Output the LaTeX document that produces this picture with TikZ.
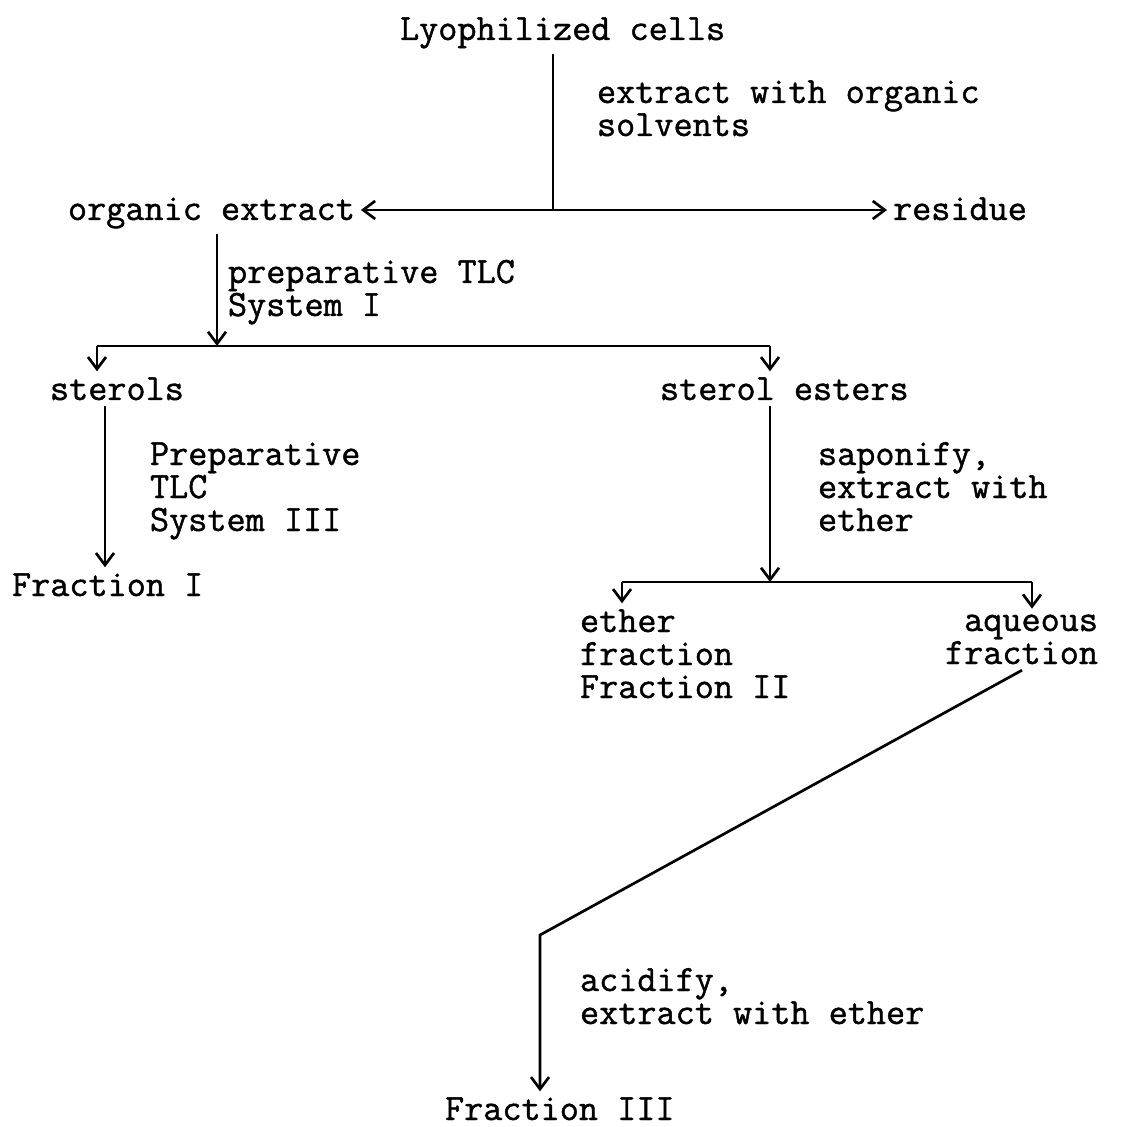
\documentclass[tikz,border=0pt]{standalone}
\usepackage{fontspec}
\setmainfont[FakeBold=1.2,AutoFakeBold=1.2]{Latin Modern Mono}
\usetikzlibrary{arrows.meta}
\tikzset{
    txt/.style = {inner sep=0pt, outer sep=3pt, anchor=base west, align=left, font=\fontsize{18.57}{16.5}\selectfont\bfseries},
    flow/.style = {line width=1.35pt},
    flowarrow/.style = {flow, -{Straight Barb[length=6pt, width=9pt, line width=1.35pt]}}
}
\begin{document}
\begin{tikzpicture}[x=0.5pt, y=-0.5pt]
    \useasboundingbox (0,0) rectangle (1120,1127);

    % texts (multi-line ones sit on their last line)
    \node[txt] (lyo) at (394,40) {Lyophilized cells};
    \node[txt] (step1) at (591,136) {extract with organic\\solvents};
    \node[txt] (orgext) at (62,220) {organic extract};
    \node[txt] (residue) at (887,220) {residue};
    \node[txt] (step2) at (222,316) {preparative TLC\\System I};
    \node[txt] (sterols) at (44,400) {sterols};
    \node[txt] (esters) at (654,400) {sterol esters};
    \node[txt] (step3) at (144,531) {Preparative\\TLC\\System III};
    \node[txt] (frac1) at (6,596) {Fraction I};
    \node[txt] (step4) at (812,531) {saponify,\\extract with\\ether};
    \node[txt] (ether) at (574,698) {ether\\fraction\\Fraction II};
    \node[txt, anchor=base east, align=right] (aqueous) at (1104,664) {aqueous\\fraction};
    \node[txt] (step5) at (574,1024) {acidify,\\extract with ether};
    \node[txt] (frac3) at (439,1120) {Fraction III};

    % junctions
    \coordinate (j1) at (553,210);
    \coordinate (j2) at (217,346);
    \coordinate (b2l) at (97,346);
    \coordinate (b2r) at (770,346);
    \coordinate (c3) at (105,0);
    \coordinate (j4) at (770,582);
    \coordinate (b4l) at (622,582);
    \coordinate (b4r) at (1032,582);
    \coordinate (k1) at (1022,0);
    \coordinate (bend) at (540,935);

    % connectors
    \draw[flow] (lyo.south -| j1) -- (j1);
    \draw[flowarrow] (j1) -- (orgext.east |- j1);
    \draw[flowarrow] (j1) -- (residue.west |- j1);
    \draw[flowarrow] (orgext.south -| j2) -- (j2);
    \draw[flow] (b2l) -- (b2r);
    \draw[flowarrow] (b2l) -- (sterols.north -| b2l);
    \draw[flowarrow] (b2r) -- (esters.north -| b2r);
    \draw[flowarrow] (sterols.south -| c3) -- (frac1.north -| c3);
    \draw[flowarrow] (esters.south -| j4) -- (j4);
    \draw[flow] (b4l) -- (b4r);
    \draw[flowarrow] (b4l) -- (ether.north -| b4l);
    \draw[flowarrow] (b4r) -- (aqueous.north -| b4r);
    \draw[flowarrow] (aqueous.south -| k1) -- (bend) -- (frac3.north -| bend);
\end{tikzpicture}
\end{document}
